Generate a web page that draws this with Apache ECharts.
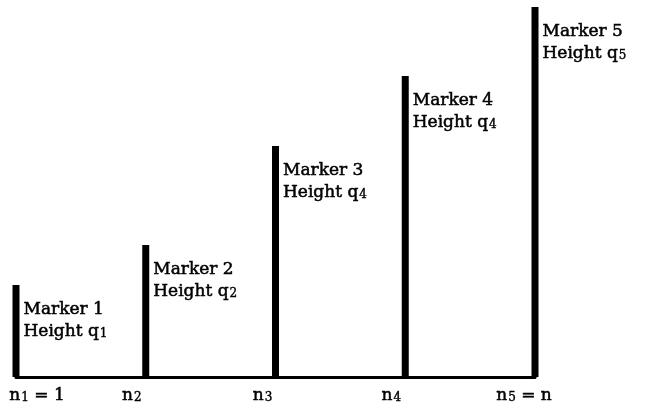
<!DOCTYPE html>
<html>
<head>
<meta charset="utf-8">
<script src="https://cdn.jsdelivr.net/npm/echarts@6/dist/echarts.min.js"></script>
<style>html,body{margin:0;padding:0;background:#fff}#c{width:648px;height:405px}</style>
</head>
<body>
<div id="c"></div>
<script>
const positions = [1, 2, 3, 4, 5];
const heights = [92, 132, 231, 301, 370];
const markerNames = ['Marker 1', 'Marker 2', 'Marker 3', 'Marker 4', 'Marker 5'];
const heightSubs = ['1', '2', '4', '4', '5'];
const tickSubs = ['1', '2', '3', '4', '5'];
const tickSuffix = [' = 1', '', '', '', ' = n'];

const FONT = 'DejaVu Serif';
const baseTxt = { fontFamily: FONT, fontSize: 17, color: '#000', lineHeight: 22, verticalAlign: 'bottom', textBorderColor: '#000', textBorderWidth: 0.5 };
const subTxt = { fontFamily: FONT, fontSize: 12, color: '#000', lineHeight: 14, verticalAlign: 'bottom', padding: [0, 0, 0, 1], textBorderColor: '#000', textBorderWidth: 0.4 };

// horizontal shift (px) of each tick label relative to its tick
const tickShift = [21, -14, -13, -14, -11];
const tickRich = { s: subTxt };
tickShift.forEach((s, i) => {
  tickRich['L' + i] = Object.assign({}, baseTxt, { padding: [0, 0, 0, s > 0 ? 2 * s : 0] });
  tickRich['R' + i] = Object.assign({}, baseTxt, { padding: [0, s < 0 ? -2 * s : 0, 0, 0] });
});

const chart = echarts.init(document.getElementById('c'), null, { renderer: 'canvas' });
chart.setOption({
  animation: false,
  backgroundColor: '#fff',
  grid: { left: 16, right: 113, top: 7, bottom: 28, containLabel: false, outerBoundsMode: 'none' },
  xAxis: {
    type: 'value', min: 1, max: 5, interval: 1,
    axisLine: { show: true, lineStyle: { color: '#000', width: 3 } },
    axisTick: { show: false },
    splitLine: { show: false },
    axisLabel: {
      margin: 5,
      align: 'center',
      formatter: function (v) {
        const i = positions.indexOf(v);
        if (i < 0) return '';
        return '{L' + i + '|n}{s|' + tickSubs[i] + '}{R' + i + '|' + (tickSuffix[i] || '\u200b') + '}';
      },
      rich: tickRich
    }
  },
  yAxis: {
    type: 'value', min: 0, max: 370, show: false,
    splitLine: { show: false }
  },
  series: [{
    type: 'bar',
    barWidth: 7,
    itemStyle: { color: '#000' },
    data: positions.map((p, i) => [p, heights[i]]),
    label: {
      show: true,
      position: [11, 11],
      align: 'left',
      verticalAlign: 'top',
      formatter: function (p) {
        const i = p.dataIndex;
        return '{t|' + markerNames[i] + '}\n{t|Height q}{s|' + heightSubs[i] + '}';
      },
      rich: { t: baseTxt, s: subTxt }
    }
  }]
});
</script>
</body>
</html>
